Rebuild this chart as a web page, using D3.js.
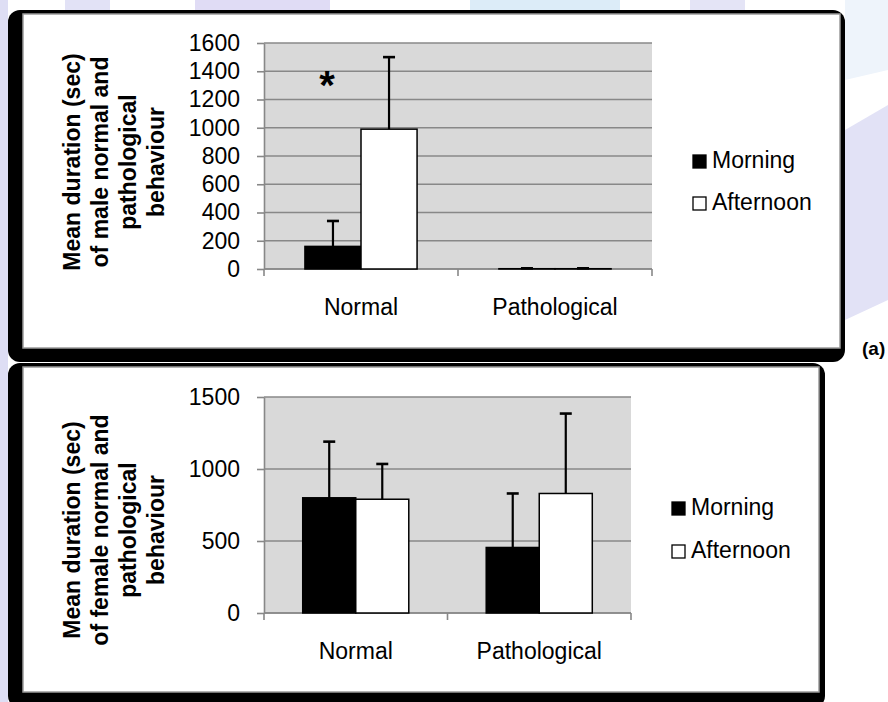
<!DOCTYPE html>
<html>
<head>
<meta charset="utf-8">
<script src="https://cdn.jsdelivr.net/npm/d3@7"></script>
<style>
  html, body { margin: 0; padding: 0; background: #fff; }
  svg { display: block; font-family: "Liberation Sans", Arial, sans-serif; }
</style>
</head>
<body>
<svg id="chart" width="888" height="702"></svg>
<script>
'use strict';

// data
const categories = ['Normal', 'Pathological'];
const series = ['Morning', 'Afternoon'];

const maleMorning = [160, 2];
const maleAfternoon = [990, 2];
const maleMorningErr = [180, 3];
const maleAfternoonErr = [510, 3];
const maleTicks = [0, 200, 400, 600, 800, 1000, 1200, 1400, 1600];
const maleTitle = ['Mean duration (sec)', 'of male normal and', 'pathological', 'behaviour'];

const femaleMorning = [800, 455];
const femaleAfternoon = [790, 830];
const femaleMorningErr = [390, 375];
const femaleAfternoonErr = [245, 555];
const femaleTicks = [0, 500, 1000, 1500];
const femaleTitle = ['Mean duration (sec)', 'of female normal and', 'pathological', 'behaviour'];

const seriesFill = ['#000000', '#ffffff'];

const svg = d3.select('#chart');

// faint watermark behind the figure
const bg = svg.append('g');
bg.append('rect').attr('x', 0).attr('y', 0).attr('width', 8).attr('height', 702).attr('fill', '#dedef4');
bg.append('rect').attr('x', 65).attr('y', 0).attr('width', 45).attr('height', 10).attr('fill', '#e2e2f6');
bg.append('rect').attr('x', 195).attr('y', 0).attr('width', 135).attr('height', 10).attr('fill', '#e0dcf5');
bg.append('rect').attr('x', 470).attr('y', 0).attr('width', 150).attr('height', 10).attr('fill', '#dcecf8');
bg.append('rect').attr('x', 690).attr('y', 0).attr('width', 55).attr('height', 10).attr('fill', '#e4e4f6');
bg.append('path').attr('d', 'M845,130 L888,105 L888,300 L845,320 Z').attr('fill', '#e2e2f6');
bg.append('path').attr('d', 'M845,0 L888,0 L888,70 L845,80 Z').attr('fill', '#eef4fb');

function drawPanel(p) {
  const g = svg.append('g');

  // shadowed chart area
  g.append('rect')
    .attr('x', p.outer[0]).attr('y', p.outer[1])
    .attr('width', p.outer[2]).attr('height', p.outer[3])
    .attr('rx', 12).attr('fill', '#000');
  g.append('rect')
    .attr('x', p.inner[0]).attr('y', p.inner[1])
    .attr('width', p.inner[2]).attr('height', p.inner[3])
    .attr('fill', '#fff').attr('stroke', '#9a9a9a').attr('stroke-width', 1.5);

  const x0 = d3.scaleBand()
    .domain(categories)
    .range([p.left, p.right])
    .padding(0);

  const x1 = d3.scaleBand()
    .domain(series)
    .range([0, x0.bandwidth()])
    .paddingInner(0)
    .paddingOuter(0.73);

  const y = d3.scaleLinear()
    .domain([0, p.ticks[p.ticks.length - 1]])
    .range([p.bottom, p.top]);

  // plot area
  g.append('rect')
    .attr('x', p.left).attr('y', p.top)
    .attr('width', p.right - p.left).attr('height', p.bottom - p.top)
    .attr('fill', '#d9d9d9');

  // gridlines
  g.selectAll('.grid')
    .data(p.ticks)
    .enter()
    .append('line')
    .attr('x1', p.left).attr('x2', p.right)
    .attr('y1', d => y(d)).attr('y2', d => y(d))
    .attr('stroke', '#888').attr('stroke-width', 1.6);

  // y axis
  const yAxis = g.append('g')
    .attr('transform', 'translate(' + p.left + ',0)')
    .call(d3.axisLeft(y).tickValues(p.ticks).tickFormat(d3.format('d'))
      .tickSize(7).tickSizeOuter(0).tickPadding(17));
  yAxis.select('.domain').attr('stroke', '#888').attr('stroke-width', 1.6);
  yAxis.selectAll('.tick line').attr('stroke', '#888').attr('stroke-width', 1.6);
  yAxis.selectAll('.tick text')
    .attr('font-size', 23).attr('fill', '#000')
    .attr('font-family', '"Liberation Sans", Arial, sans-serif');

  // x axis: ticks on category boundaries, labels centred
  const bounds = categories.map(c => x0(c)).concat([x0(categories[categories.length - 1]) + x0.bandwidth()]);
  g.selectAll('.xtick')
    .data(bounds)
    .enter()
    .append('line')
    .attr('x1', d => d).attr('x2', d => d)
    .attr('y1', p.bottom).attr('y2', p.bottom + 7)
    .attr('stroke', '#888').attr('stroke-width', 1.6);
  g.append('line')
    .attr('x1', p.left).attr('x2', p.right)
    .attr('y1', p.bottom).attr('y2', p.bottom)
    .attr('stroke', '#888').attr('stroke-width', 1.6);
  g.selectAll('.xlabel')
    .data(categories)
    .enter()
    .append('text')
    .attr('x', d => x0(d) + x0.bandwidth() / 2)
    .attr('y', p.bottom + 46)
    .attr('text-anchor', 'middle')
    .attr('font-size', 23)
    .text(d => d);

  // bars
  const rows = [];
  categories.forEach((c, i) => {
    series.forEach((s, j) => {
      rows.push({ cat: c, ser: s, j: j, v: p.values[j][i], e: p.errors[j][i] });
    });
  });

  g.selectAll('.bar')
    .data(rows)
    .enter()
    .append('rect')
    .attr('x', d => x0(d.cat) + x1(d.ser))
    .attr('y', d => y(d.v))
    .attr('width', x1.bandwidth())
    .attr('height', d => y(0) - y(d.v))
    .attr('fill', d => seriesFill[d.j])
    .attr('stroke', '#000')
    .attr('stroke-width', 1.5);

  // upper error bars
  const cx = d => x0(d.cat) + x1(d.ser) + x1.bandwidth() / 2;
  g.selectAll('.err')
    .data(rows)
    .enter()
    .append('line')
    .attr('x1', cx).attr('x2', cx)
    .attr('y1', d => y(d.v)).attr('y2', d => y(d.v + d.e))
    .attr('stroke', '#000').attr('stroke-width', 2.2);
  g.selectAll('.cap')
    .data(rows)
    .enter()
    .append('line')
    .attr('x1', d => cx(d) - 6).attr('x2', d => cx(d) + 6)
    .attr('y1', d => y(d.v + d.e)).attr('y2', d => y(d.v + d.e))
    .attr('stroke', '#000').attr('stroke-width', 2.6);

  // rotated y title
  p.title.forEach((line, i) => {
    const tx = p.titleX[i];
    g.append('text')
      .attr('transform', 'translate(' + tx + ',' + p.titleY + ') rotate(-90)')
      .attr('text-anchor', 'middle')
      .attr('font-size', 23)
      .attr('font-weight', 'bold')
      .text(line);
  });

  // legend
  series.forEach((s, j) => {
    const sy = p.legendY[j];
    g.append('rect')
      .attr('x', p.legendX).attr('y', sy)
      .attr('width', 13).attr('height', 13)
      .attr('fill', seriesFill[j])
      .attr('stroke', '#000').attr('stroke-width', 1.3);
    g.append('text')
      .attr('x', p.legendX + 19).attr('y', sy + 13)
      .attr('font-size', 23)
      .text(s);
  });

  return { g: g, x0: x0, x1: x1, y: y };
}

const malePanel = drawPanel({
  outer: [8, 10, 837, 352],
  inner: [23, 14, 817, 334],
  left: 264, right: 652, top: 43, bottom: 269,
  ticks: maleTicks,
  values: [maleMorning, maleAfternoon],
  errors: [maleMorningErr, maleAfternoonErr],
  title: maleTitle,
  titleX: [80, 108, 136, 164],
  titleY: 162,
  legendX: 693,
  legendY: [155, 197]
});

// significance star over the normal pair
malePanel.g.append('text')
  .attr('x', malePanel.x0('Normal') + malePanel.x1('Morning') + malePanel.x1.bandwidth() / 2 - 6)
  .attr('y', malePanel.y(1340) + 19)
  .attr('text-anchor', 'middle')
  .attr('font-size', 40)
  .attr('font-weight', 'bold')
  .text('*');

drawPanel({
  outer: [8, 363, 817, 345],
  inner: [23, 367, 796, 325],
  left: 264, right: 631, top: 397, bottom: 613,
  ticks: femaleTicks,
  values: [femaleMorning, femaleAfternoon],
  errors: [femaleMorningErr, femaleAfternoonErr],
  title: femaleTitle,
  titleX: [80, 108, 136, 164],
  titleY: 530,
  legendX: 672,
  legendY: [502, 545]
});

// panel label
svg.append('text')
  .attr('x', 862).attr('y', 355)
  .attr('font-size', 19)
  .attr('font-weight', 'bold')
  .text('(a)');
</script>
</body>
</html>
